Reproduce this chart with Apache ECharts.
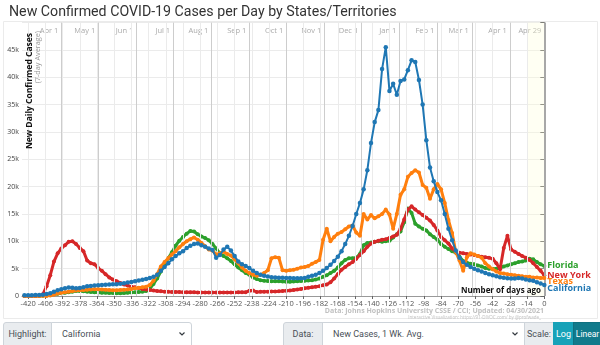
<!DOCTYPE html>
<html><head><meta charset="utf-8">
<script src="https://cdn.jsdelivr.net/npm/echarts@6/dist/echarts.min.js"></script>
<style>
html,body{margin:0;padding:0;background:#fff;width:600px;height:345px;overflow:hidden;font-family:Roboto,"Liberation Sans",sans-serif;}
#chart{position:absolute;left:0;top:0;width:600px;height:322px;}
.c{position:absolute;top:322px;height:26px;box-sizing:border-box;border:1px solid #ced4da;font-size:9px;line-height:23px;color:#495057;white-space:nowrap;overflow:hidden;}
.lab{background:#e9ecef;text-align:center;}
.sel{background:#fff;padding-left:10px;}
.chev{position:absolute;right:6px;top:9px;}
.btn{color:#fff;text-align:center;border-color:#17a2b8;padding:0;}
</style></head>
<body>
<div id="chart"></div>
<div class="c lab" style="left:3px;width:49px;border-radius:3px 0 0 3px;">Highlight:</div>
<div class="c sel" style="left:51px;width:141px;border-radius:0 3px 3px 0;">California<svg class="chev" width="6" height="4"><polyline points="0.5,0.5 3,3 5.5,0.5" fill="none" stroke="#343a40" stroke-width="1.2"/></svg></div>
<div class="c lab" style="left:283px;width:40px;border-radius:3px 0 0 3px;">Data:</div>
<div class="c sel" style="left:322px;width:203px;">New Cases, 1 Wk. Avg.<svg class="chev" width="6" height="4"><polyline points="0.5,0.5 3,3 5.5,0.5" fill="none" stroke="#343a40" stroke-width="1.2"/></svg></div>
<div class="c lab" style="left:524px;width:30px;">Scale:</div>
<div class="c btn" style="left:553px;width:21px;background:#17a2b8;">Log</div>
<div class="c btn" style="left:573px;width:29px;background:#117a8b;border-color:#10707f;font-size:8.5px;">Linear</div>
<script>
// x positions: days ago, every 3 days from -423 to 0
const days = [];
for (let d = -423; d <= 0; d += 3) days.push(d);

const newYork = [
0,0,0,0,50,300,1800,3800,6300,7800,
8700,9300,9900,10000,9500,8800,8200,6500,6000,5800,
5100,4600,4000,3400,3000,2700,2400,2100,1900,1700,
1600,1450,1300,1200,1100,1000,920,860,800,770,
750,730,720,700,690,680,670,660,660,650,
650,650,640,640,650,650,660,660,670,680,
700,950,1000,750,760,780,800,820,840,860,
900,950,1000,1100,1200,1300,1400,1500,1600,1700,
1800,1950,2100,2500,3200,4000,4800,5300,5800,6200,
6800,7500,8200,9000,9600,9900,10100,10300,10400,10600,
10900,11200,12300,14000,15800,16400,15800,15300,14800,14300,
13800,13000,12000,10800,10200,9600,8700,8100,7900,7800,
7700,7600,7500,7300,7200,7100,7000,6800,6000,4900,
8800,11000,8500,8100,7700,7300,7000,6600,6000,5300,
4600,3800];

const florida = [
0,0,0,0,0,50,100,200,300,400,
500,600,700,800,900,900,850,800,750,700,
650,600,600,550,550,500,500,550,600,650,
700,750,800,900,1300,2200,3200,4500,5700,6900,
8000,9200,10100,10800,11400,11900,11800,11300,10900,10600,
10200,9500,8700,7800,7300,6900,6400,5800,5200,4700,
4200,3900,3400,3100,2900,2800,2750,2700,2700,2700,
2650,2600,2600,2650,2700,2750,2800,2850,2900,3000,
3200,3500,3800,4200,4600,5200,6000,6600,6900,6900,
7000,7700,9300,9700,9800,9900,10000,9900,10000,10100,
10700,11300,11800,13500,16000,15200,13200,12700,12300,12000,
11300,10800,10300,9500,9000,8600,8200,7900,7200,6400,
6100,5900,5800,5600,5400,5100,5000,5000,5000,5100,
5400,5600,5800,6000,6200,6300,6500,6800,6700,6200,
5800,5500];

const texas = [
0,0,0,0,0,0,0,100,250,450,
600,700,800,900,1000,1050,1100,1150,1200,1250,
1250,1200,1150,1100,1050,1050,1100,1150,1200,1300,
1400,1500,1600,1700,2000,2800,4000,5400,6200,6900,
7600,8200,8900,9500,10000,10400,10700,10300,9700,9100,
8500,8300,7600,7800,8100,7700,7400,6700,6000,5200,
4600,4200,3900,3700,3900,4200,4700,6900,7100,7000,
4700,4600,4700,4800,5000,5200,5300,5500,5900,6200,
6600,10300,12300,10000,10800,11400,11700,12200,12700,12900,
11600,11000,15000,14000,14800,14200,14600,15000,15800,14900,
12300,15000,18500,19500,21800,22500,23000,22600,20300,19800,
17800,19500,20500,19500,17000,13900,11500,8000,6500,4600,
7100,7800,7600,7300,7000,6000,5400,4900,4500,4200,
4100,4000,3900,3800,3700,3600,3500,3500,3400,3400,
3300,3300];

const california = [
150,150,150,200,200,250,350,500,800,1050,
1250,1400,1550,1500,1400,1450,1600,1800,1850,1900,
1950,2000,2050,2100,2150,2150,2250,2350,2450,2550,
2700,2850,2950,3100,3300,3500,3900,4600,5300,6000,
6700,7300,7800,8200,8800,9200,9500,9600,9300,9000,
8700,8400,7000,7500,8500,9000,8300,7300,6300,5800,
5500,5100,4600,4200,3900,3700,3550,3450,3400,3350,
3350,3300,3300,3250,3250,3250,3300,3500,3700,3900,
4200,4600,5100,5700,6400,7200,8200,9500,11000,12800,
15000,17000,19500,23000,28000,31800,34000,41500,45500,37500,
38800,36800,39300,39600,41300,43100,42800,39500,35000,28500,
23500,21000,19000,17500,15000,12300,10200,8300,7000,6200,
5700,5300,5000,4700,4500,4200,4000,3800,3600,3450,
3350,3250,3200,3200,3300,3200,3000,2900,2800,2500,
2300,2000];

const seriesNames = ['Florida', 'New York', 'Texas', 'California'];
const seriesColors = ['#2ca02c', '#d62728', '#ff7f0e', '#1f77b4'];
const seriesValues = [florida, newYork, texas, california];
const labelOffsets = [0, 0, 3, 3];

const dayTicks = [-420,-406,-392,-378,-364,-350,-336,-322,-308,-294,-280,-266,-252,-238,-224,-210,-196,-182,-168,-154,-140,-126,-112,-98,-84,-70,-56,-42,-28,-14,0];
const monthDays = [-393,-363,-332,-302,-271,-240,-210,-179,-149,-118,-87,-59,-28,0];
const monthNames = ['Apr 1','May 1','Jun 1','Jul 1','Aug 1','Sep 1','Oct 1','Nov 1','Dec 1','Jan 1','Feb 1','Mar 1','Apr 1','Apr 29'];
const yTicksMax = 45000;

const monthMap = {};
monthDays.forEach((d, i) => monthMap[d] = monthNames[i]);

const FONT = '"Open Sans", "DejaVu Sans", sans-serif';

const chart = echarts.init(document.getElementById('chart'), null, {renderer: 'canvas'});

const lineSeries = seriesNames.map((name, i) => {
  const hi = name === 'California';
  return {
    name: name,
    type: 'line',
    xAxisIndex: 0,
    yAxisIndex: 0,
    data: days.map((d, k) => [d, seriesValues[i][k]]),
    symbol: 'circle',
    symbolSize: hi ? 4.5 : 4,
    showSymbol: true,
    showAllSymbol: true,
    z: 3 + i,
    lineStyle: {color: seriesColors[i], width: hi ? 2 : 3},
    itemStyle: {color: seriesColors[i]},
    emphasis: {disabled: true},
    silent: true,
    endLabel: {
      show: true,
      formatter: name,
      color: seriesColors[i],
      fontFamily: FONT,
      fontWeight: 'bold',
      fontSize: 9,
      distance: 3,
      offset: [0, labelOffsets[i]]
    }
  };
});

const gridSeries = {
  type: 'line',
  xAxisIndex: 0,
  yAxisIndex: 0,
  data: [],
  z: 1,
  silent: true,
  markArea: {
    silent: true,
    itemStyle: {color: 'rgba(255,255,215,0.3)'},
    data: [[{xAxis: -14}, {xAxis: 0}]]
  },
  markLine: {
    silent: true,
    symbol: ['none', 'none'],
    label: {show: false},
    animation: false,
    data: [
      ...dayTicks.filter(d => d !== 0).map(d => ({xAxis: d, lineStyle: {color: '#ebebeb', width: 1, type: 'solid'}})),
      ...monthDays.filter(d => d !== 0).map(d => ({xAxis: d, lineStyle: {color: '#cdcdcd', width: 1, type: 'solid'}})),
      {xAxis: 0, lineStyle: {color: '#a8a8a8', width: 2, type: 'solid'}}
    ]
  }
};

chart.setOption({
  animation: false,
  title: {
    text: 'New Confirmed COVID-19 Cases per Day by States/Territories',
    left: 4, top: 0,
    textStyle: {fontFamily: 'Roboto, "Liberation Sans", sans-serif', fontSize: 14.2, fontWeight: 'normal', color: '#333'}
  },
  grid: {left: 22, right: 55.7, top: 22.6, bottom: 26, containLabel: false},
  xAxis: [{
    type: 'value', min: -425, max: 0, position: 'bottom',
    axisLine: {show: true, onZero: false, lineStyle: {color: '#999'}},
    axisTick: {show: true, customValues: dayTicks, length: 3, lineStyle: {color: '#666'}},
    axisLabel: {customValues: dayTicks, fontFamily: FONT, fontSize: 7.5, color: '#555', margin: 4},
    splitLine: {show: false}
  }, {
    type: 'value', min: -425, max: 0, position: 'top',
    axisLine: {show: false},
    axisTick: {show: false},
    axisLabel: {
      customValues: monthDays, inside: true, fontFamily: FONT, fontSize: 7.5, color: '#aaa',
      align: 'right', margin: 4, padding: [0, 3, 0, 0],
      formatter: v => monthMap[v] || ''
    },
    splitLine: {show: false}
  }],
  yAxis: {
    type: 'value', min: 0, max: 50000, interval: 5000,
    axisLine: {show: true, lineStyle: {color: '#666'}},
    axisTick: {show: true, length: 4, lineStyle: {color: '#666'}},
    axisLabel: {
      fontFamily: FONT, fontSize: 7, color: '#444', margin: 3,
      formatter: v => v > yTicksMax ? '' : (v === 0 ? '0' : (v / 1000) + 'k')
    },
    splitLine: {show: true, lineStyle: {color: '#ebebeb'}}
  },
  graphic: [
    {type: 'rect', silent: true, z: -1, shape: {x: 3.5, y: 21.5, width: 594, height: 297}, style: {fill: 'none', stroke: '#ebebeb', lineWidth: 1}},
    {type: 'text', x: 30, y: 33, rotation: Math.PI / 2, silent: true, z: 10,
      style: {text: 'New Daily Confirmed Cases', fill: '#111', font: 'bold 8.5px ' + FONT, align: 'right', verticalAlign: 'middle'}},
    {type: 'text', x: 38, y: 31, rotation: Math.PI / 2, silent: true, z: 10,
      style: {text: '(7-day Average)', fill: '#999', font: '7.3px ' + FONT, align: 'right', verticalAlign: 'middle'}},
    {type: 'text', x: 541, y: 290.5, silent: true, z: 10,
      style: {text: 'Number of days ago', fill: '#111', font: 'bold 8px ' + FONT, align: 'right', verticalAlign: 'middle'}},
    {type: 'text', x: 544, y: 311, silent: true, z: 10,
      style: {text: 'Data: Johns Hopkins University CSSE / CCI; Updated: 04/30/2021', fill: '#c0c0c0', font: 'bold 7px ' + FONT, align: 'right', verticalAlign: 'middle'}},
    {type: 'text', x: 541, y: 318, silent: true, z: 10,
      style: {text: 'Interactive Visualization: https://91-DIVOC.com/ by @profwade_', fill: '#c0c0c0', font: '4.5px ' + FONT, align: 'right', verticalAlign: 'middle'}}
  ],
  series: [gridSeries, ...lineSeries]
});
</script>
</body></html>
